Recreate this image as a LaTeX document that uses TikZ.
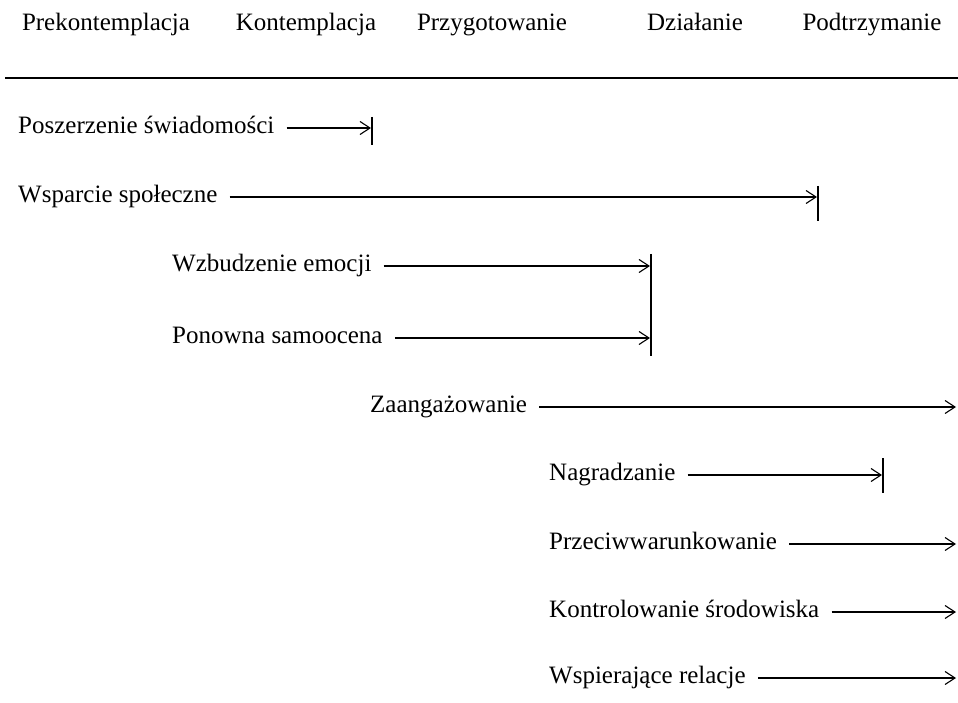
\documentclass[tikz,border=0pt]{standalone}
\usepackage{fontspec}
\setmainfont{Liberation Serif}
\usetikzlibrary{arrows.meta}
\tikzstyle{stage} = [anchor=base, inner sep=0pt, font={\fontsize{25}{30}\selectfont}]
\tikzstyle{proc} = [anchor=west, inner xsep=12pt, inner ysep=0pt, text height=11pt, text depth=0pt, font={\fontsize{25}{30}\selectfont}]
\tikzstyle{flow} = [-{Straight Barb[length=10pt,width=13pt]}, line width=1.1pt]
\tikzstyle{stop} = [line width=1.1pt]

\begin{document}
\begin{tikzpicture}[x=1pt,y=-1pt]
    \useasboundingbox (0,0) rectangle (958,703);
    % stages
    \node[stage](s1) at (106,31){Prekontemplacja};
    \node[stage](s2) at (306,31){Kontemplacja};
    \node[stage](s3) at (492,31){Przygotowanie};
    \node[stage](s4) at (695,31){Działanie};
    \node[stage](s5) at (872,31){Podtrzymanie};
    \coordinate(h1) at (5,78);
    \coordinate(h2) at (958,78);
    \draw[stop](h1)--(h2);
    % processes
    \node[proc](p1) at (6,128){Poszerzenie świadomości};
    \node[proc](p2) at (6,197){Wsparcie społeczne};
    \node[proc](p3) at (160,266){Wzbudzenie emocji};
    \node[proc](p4) at (160,338){Ponowna samoocena};
    \node[proc](p5) at (358,407){Zaangażowanie};
    \node[proc](p6) at (537,475){Nagradzanie};
    \node[proc](p7) at (537,544){Przeciwwarunkowanie};
    \node[proc](p8) at (537,612){Kontrolowanie środowiska};
    \node[proc](p9) at (537,678){Wspierające relacje};
    \coordinate(e1) at (371,128);
    \coordinate(e2) at (817,197);
    \coordinate(e3) at (650,266);
    \coordinate(e4) at (650,338);
    \coordinate(e5) at (956,407);
    \coordinate(e6) at (882,475);
    \coordinate(e7) at (956,544);
    \coordinate(e8) at (956,612);
    \coordinate(e9) at (956,678);
    \draw[flow](p1.east)--(e1);
    \draw[flow](p2.east)--(e2);
    \draw[flow](p3.east)--(e3);
    \draw[flow](p4.east)--(e4);
    \draw[flow](p5.east)--(e5);
    \draw[flow](p6.east)--(e6);
    \draw[flow](p7.east)--(e7);
    \draw[flow](p8.east)--(e8);
    \draw[flow](p9.east)--(e9);
    % end bars
    \coordinate(b1) at (372,117);
    \coordinate(c1) at (372,145);
    \coordinate(b2) at (818,186);
    \coordinate(c2) at (818,221);
    \coordinate(b3) at (651,254);
    \coordinate(c3) at (651,356);
    \coordinate(b4) at (883,458);
    \coordinate(c4) at (883,493);
    \draw[stop](b1)--(c1);
    \draw[stop](b2)--(c2);
    \draw[stop](b3)--(c3);
    \draw[stop](b4)--(c4);
  \end{tikzpicture}
\end{document}
